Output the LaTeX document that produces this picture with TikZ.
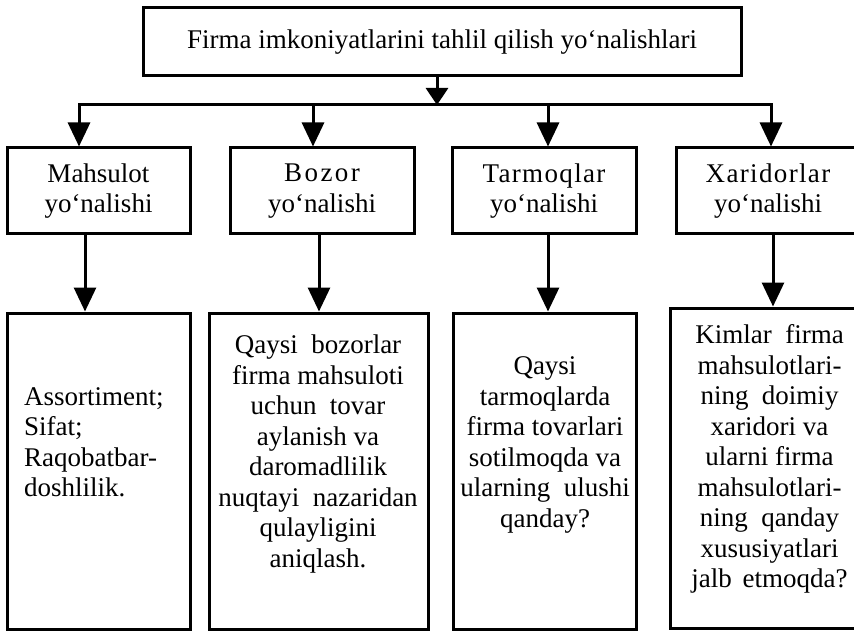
\documentclass[tikz,border=0pt]{standalone}
\usepackage{fontspec}
\setmainfont{Liberation Serif}
\usetikzlibrary{arrows.meta}
\newcommand{\wsp}{\hspace{0.5em}}
\begin{document}
\begin{tikzpicture}[x=1pt,y=-1pt,
  font=\fontsize{27}{30.5}\selectfont,
  frame/.style={draw, line width=3pt, inner sep=0pt, align=center},
  conn/.style={line width=3pt, -{Triangle[width=22pt,length=24pt]}},
  trunkarrow/.style={line width=3pt, -{Triangle[width=22pt,length=17pt]}},
  busline/.style={line width=3pt, line cap=rect},
  txt/.style={inner sep=0pt, align=center}]
\useasboundingbox (0,0) rectangle (854,631);

% top box
\node[frame, minimum width=598pt, minimum height=68pt] (top) at (442,42)
  {Firma imkoniyatlarini tahlil qilish yo‘nalishlari};

% second row
\node[frame, minimum width=183pt, minimum height=86pt] (b1) at (98.5,191)
  {Mahsulot\\yo‘nalishi};
\node[frame, minimum width=184pt, minimum height=86pt] (b2) at (322,191)
  {{\addfontfeature{LetterSpace=9}Bozor}\\yo‘nalishi};
\node[frame, minimum width=184pt, minimum height=86pt] (b3) at (544,191)
  {{\addfontfeature{LetterSpace=5}Tarmoqlar}\\yo‘nalishi};
\node[frame, minimum width=184pt, minimum height=86pt] (b4) at (768,191)
  {{\addfontfeature{LetterSpace=5}Xaridorlar}\\yo‘nalishi};

% third row boxes
\node[frame, minimum width=183pt, minimum height=316pt] (c1) at (98.5,471) {};
\node[frame, minimum width=219pt, minimum height=316pt] (c2) at (318.5,471) {};
\node[frame, minimum width=183pt, minimum height=316pt] (c3) at (544.5,471) {};
\node[frame, minimum width=199pt, minimum height=320pt] (c4) at (769.5,468) {};

% third row texts
\node[inner sep=0pt, align=left, anchor=west] (t1) at (24,442)
  {Assortiment;\\Sifat;\\Raqobatbar-\\doshlilik.};
\node[txt] (t2) at (318,454)
  {Qaysi\wsp bozorlar\\firma mahsuloti\\uchun\wsp tovar\\aylanish va\\daromadlilik\\nuqtayi\wsp nazaridan\\qulayligini\\aniqlash.};
\node[txt] (t3) at (545,445)
  {Qaysi\\tarmoqlarda\\firma tovarlari\\sotilmoqda va\\ularning\wsp ulushi\\qanday?};
\node[txt] (t4) at (769.5,459)
  {Kimlar\wsp firma\\mahsulotlari-\\ning\wsp doimiy\\xaridori va\\ularni firma\\mahsulotlari-\\ning\wsp qanday\\xususiyatlari\\jalb\hspace{0.4em}etmoqda?};

% connector coordinates
\coordinate (trunk) at (437,105);
\coordinate (bus1) at (79,105);
\coordinate (bus2) at (313,105);
\coordinate (bus3) at (548,105);
\coordinate (bus4) at (771,105);
\coordinate (d1) at (85,0);
\coordinate (d2) at (319,0);
\coordinate (d3) at (548,0);
\coordinate (d4) at (773,0);

% connectors
\draw[busline] (bus1) -- (bus4);
\draw[trunkarrow] (top.south -| trunk) -- (trunk);
\draw[conn] (bus1) -- (b1.north -| bus1);
\draw[conn] (bus2) -- (b2.north -| bus2);
\draw[conn] (bus3) -- (b3.north -| bus3);
\draw[conn] (bus4) -- (b4.north -| bus4);
\draw[conn] (b1.south -| d1) -- (c1.north -| d1);
\draw[conn] (b2.south -| d2) -- (c2.north -| d2);
\draw[conn] (b3.south -| d3) -- (c3.north -| d3);
\draw[conn] (b4.south -| d4) -- (c4.north -| d4);
\end{tikzpicture}
\end{document}
